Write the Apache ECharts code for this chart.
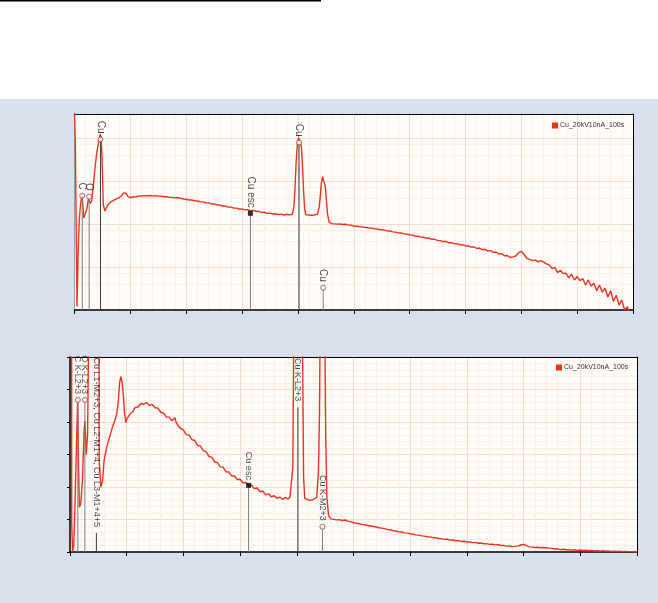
<!DOCTYPE html>
<html><head><meta charset="utf-8">
<script src="https://cdn.jsdelivr.net/npm/echarts@6/dist/echarts.min.js"></script>
<style>
html,body{margin:0;padding:0;background:#fff;}
#c{width:658px;height:603px;background:linear-gradient(to bottom,#ffffff 0,#ffffff 99px,#d8e0ee 99px,#d8e0ee 100%);}
</style></head>
<body><div id="c"></div>
<script>
// ---------- data (energy keV, counts) ----------
const seriesName = 'Cu_20kV10nA_100s';
const xTicks = [0, 2, 4, 6, 8, 10, 12, 14, 16, 18, 20];

const spectrumLow = [[0,400000],[0.03,80000],[0.06,900],[0.09,12],[0.13,200],[0.17,1240],[0.22,3000],[0.27,4720],[0.30,2800],[0.33,1380],[0.38,1500],[0.44,2200],[0.50,3800],[0.53,4030],[0.57,3000],[0.62,3600],[0.68,8500],[0.74,22000],[0.80,47000],[0.84,50000],[0.88,90000],[0.92,122000],[0.95,106000],[0.99,30000],[1.03,2800],[1.09,2000],[1.15,2200],[1.2,2800],[1.3,3250],[1.4,3550],[1.5,3850],[1.6,4100],[1.65,4250],[1.7,4600],[1.75,5200],[1.79,5400],[1.83,5250],[1.87,4950],[1.92,4300],[1.97,3980]];

const spectrumMid = [[2.0,4080],[2.1,4230],[2.2,4300],[2.3,4450],[2.4,4460],[2.5,4570],[2.6,4540],[2.7,4600],[2.8,4510],[2.9,4540],[3.0,4440],[3.1,4430],[3.2,4300],[3.3,4280],[3.4,4150],[3.5,4150],[3.6,4040],[3.65,4070],[3.7,4130],[3.75,3970],[3.8,3950],[3.9,3800],[4.0,3760],[4.1,3610],[4.2,3600],[4.3,3460],[4.4,3430],[4.5,3280],[4.6,3260],[4.7,3120],[4.8,3090],[4.9,2940],[5.0,2920],[5.1,2770],[5.2,2750],[5.3,2620],[5.4,2610],[5.5,2470],[5.6,2460],[5.7,2340],[5.8,2340],[5.9,2230],[6.0,2240],[6.1,2130],[6.2,2140],[6.3,2040],[6.4,2060],[6.5,1950],[6.6,1970],[6.7,1860],[6.8,1870],[6.9,1760],[7.0,1790],[7.1,1700],[7.2,1730],[7.3,1650],[7.4,1690],[7.5,1620],[7.6,1680],[7.7,1630],[7.76,1700]];

const spectrumCuK = [[7.80,1680],[7.86,2600],[7.90,7500],[7.94,30000],[7.98,72000],[8.02,102000],[8.05,107000],[8.08,98000],[8.12,66000],[8.16,26000],[8.20,6500],[8.24,2300],[8.28,1650],[8.35,1620],[8.45,1590],[8.55,1600],[8.62,1640],[8.70,1680],[8.76,2400],[8.80,4200],[8.84,8800],[8.88,12600],[8.91,13300],[8.94,11800],[8.98,7500],[9.02,3600],[9.06,1700],[9.12,1120],[9.20,1020]];

const spectrumHigh = [[9.3,1005],[9.4,990],[9.5,995],[9.6,970],[9.7,985],[9.8,950],[9.9,935],[10.0,900],[10.1,885],[10.2,870],[10.3,850],[10.4,835],[10.5,815],[10.6,800],[10.7,785],[10.8,770],[10.9,745],[11.0,735],[11.1,720],[11.2,690],[11.3,685],[11.4,655],[11.5,645],[11.6,620],[11.7,615],[11.8,590],[11.9,580],[12.0,560],[12.1,550],[12.2,525],[12.3,520],[12.4,495],[12.5,490],[12.6,470],[12.7,465],[12.8,440],[12.9,440],[13.0,415],[13.1,410],[13.2,390],[13.3,392],[13.4,365],[13.5,368],[13.6,345],[13.7,350],[13.8,325],[13.9,330],[14.0,308],[14.1,310],[14.2,290],[14.3,295],[14.4,270],[14.5,276],[14.6,252],[14.7,258],[14.8,236],[14.9,240],[15.0,218],[15.1,222],[15.2,200],[15.3,204],[15.4,182],[15.5,185],[15.6,166],[15.7,172],[15.8,180],[15.9,215],[16.0,232],[16.1,195],[16.2,158],[16.3,150],[16.4,140],[16.5,146],[16.6,132],[16.7,140],[16.8,130],[16.9,118],[17.0,112],[17.1,92],[17.2,98],[17.3,74],[17.4,84],[17.5,70],[17.6,72],[17.7,56],[17.8,68],[17.9,50],[18.0,60],[18.1,48],[18.2,54],[18.3,38],[18.4,50],[18.5,36],[18.6,42],[18.7,28],[18.8,38],[18.9,26],[19.0,32],[19.1,20],[19.2,28],[19.3,16],[19.4,22],[19.5,13],[19.6,17],[19.7,10],[19.8,12],[19.9,7],[20.0,9]];

// element line markers
const lineEnergies = [0.277, 0.525, 0.930, 6.30, 8.040, 8.905];
const topLineLabels = ['C', 'O', 'Cu', 'Cu esc', 'Cu', 'Cu'];
const topLineHeights = [4550, 4310, 92000, 1775, 78000, 33];
const bottomLineLabels = ['C K-L2+3', 'O K-L2+3', 'Cu L1-M2+3, Cu L2-M1+4, Cu L3-M1+4+5', 'Cu esc', 'Cu K-L2+3', 'Cu K-M2+3'];
const bottomLineHeights = [4680, 4680, 585, 2050, 4450, 778];

// ---------- chart ----------
const spectrum = spectrumLow.concat(spectrumMid, spectrumCuK, spectrumHigh);
const FONT = 'Liberation Sans, Arial, Helvetica, sans-serif';
const RED = '#e8341f';
const MAJOR = '#f1dbd4';
const MINOR = '#f9eeea';
const escIndex = 3;
const darkIdx = [2, 4];
const hiddenBottom = [2, 4];

function mainX(g) {
  return {
    gridIndex: g, type: 'value', min: xTicks[0], max: xTicks[xTicks.length - 1],
    interval: xTicks[1] - xTicks[0],
    axisLine: { show: true, onZero: false, lineStyle: { color: '#000', width: 1.5 } },
    axisTick: { show: true, length: 4, lineStyle: { color: '#000', width: 1 } },
    axisLabel: { show: false },
    splitLine: { show: true, lineStyle: { color: MAJOR, width: 1 } },
    minorTick: { show: false, splitNumber: 5 },
    minorSplitLine: { show: true, lineStyle: { color: MINOR, width: 1 } }
  };
}
function borderX(g) {
  return {
    gridIndex: g, type: 'value', position: 'top', min: 0, max: 1,
    axisLine: { show: true, onZero: false, lineStyle: { color: '#000', width: 1 } },
    axisTick: { show: false }, axisLabel: { show: false }, splitLine: { show: false }
  };
}
function borderY(g) {
  return {
    gridIndex: g, type: 'value', position: 'right', min: 0, max: 1,
    axisLine: { show: true, onZero: false, lineStyle: { color: '#000', width: 1 } },
    axisTick: { show: false }, axisLabel: { show: false }, splitLine: { show: false }
  };
}

function markerSeries(xi, yi, labels, heights, base, fontSize, hidden) {
  const out = [];
  lineEnergies.forEach((e, i) => {
    out.push({
      type: 'line', xAxisIndex: xi, yAxisIndex: yi, silent: true, symbol: 'none',
      data: [[e, base], [e, heights[i]]],
      lineStyle: { color: darkIdx.includes(i) ? '#3a3a3a' : '#7d7d7d', width: 1 },
      z: 4, animation: false
    });
  });
  const items = lineEnergies.map((e, i) => {
    const isEsc = i === escIndex;
    const hide = hidden.includes(i);
    return {
      value: [e, heights[i]], name: labels[i],
      symbol: isEsc ? 'rect' : 'circle',
      symbolSize: 5,
      itemStyle: hide ? { color: 'rgba(0,0,0,0)', borderColor: 'rgba(0,0,0,0)' } :
        (isEsc ? { color: '#000', borderColor: '#000', borderWidth: 0 } :
                 { color: '#fff', borderColor: '#8a4a40', borderWidth: 1 })
    };
  });
  out.push({
    type: 'scatter', xAxisIndex: xi, yAxisIndex: yi, silent: true, data: items, z: 6,
    animation: false,
    label: {
      show: true, position: 'top', distance: 3, rotate: -90, align: 'right', verticalAlign: 'middle',
      formatter: '{b}', fontSize: fontSize, color: '#1c1c1c', fontFamily: FONT
    }
  });
  return out;
}

const option = {
  animation: false,
  textStyle: { fontFamily: FONT },
  graphic: [
    { type: 'rect', shape: { x: 0, y: 0, width: 321, height: 1.5 }, style: { fill: '#000' } }
  ],
  legend: [
    { data: [seriesName], left: 552, top: 122, padding: 0, itemWidth: 6, itemHeight: 6, icon: 'rect',
      selectedMode: false, textStyle: { fontSize: 7, color: '#333', fontFamily: FONT, padding: [0, 0, 0, -3] } },
    { data: [seriesName], left: 556, top: 364, padding: 0, itemWidth: 6, itemHeight: 6, icon: 'rect',
      selectedMode: false, textStyle: { fontSize: 7, color: '#333', fontFamily: FONT, padding: [0, 0, 0, -3] } }
  ],
  grid: [
    { left: 74.5, top: 114, width: 558.5, height: 196, show: true, backgroundColor: '#fffbf7', borderWidth: 0 },
    { left: 70, top: 357, width: 567, height: 195, show: true, backgroundColor: '#fffbf7', borderWidth: 0 }
  ],
  xAxis: [mainX(0), borderX(0), mainX(1), borderX(1)],
  yAxis: [
    { gridIndex: 0, type: 'log', logBase: 10, min: 10, max: 360000,
      axisLine: { show: true, onZero: false, lineStyle: { color: '#98a2b4', width: 1 } },
      axisTick: { show: false }, axisLabel: { show: false },
      splitLine: { show: true, lineStyle: { color: MAJOR, width: 1 } },
      minorTick: { show: false, splitNumber: 3 },
      minorSplitLine: { show: true, lineStyle: { color: MINOR, width: 1 } } },
    borderY(0),
    { gridIndex: 1, type: 'value', min: 0, max: 6000, interval: 1000,
      axisLine: { show: true, onZero: false, lineStyle: { color: '#000', width: 1.5 } },
      axisTick: { show: true, length: 3, lineStyle: { color: '#000' } }, axisLabel: { show: false },
      splitLine: { show: true, lineStyle: { color: MAJOR, width: 1 } },
      minorTick: { show: false, splitNumber: 5 },
      minorSplitLine: { show: true, lineStyle: { color: MINOR, width: 1 } } },
    borderY(1)
  ],
  series: [
    { type: 'line', name: seriesName, xAxisIndex: 0, yAxisIndex: 0, data: spectrum, symbol: 'none',
      lineStyle: { color: RED, width: 1.4 }, itemStyle: { color: RED }, z: 3 },
    { type: 'line', name: seriesName, xAxisIndex: 2, yAxisIndex: 2, data: spectrum, symbol: 'none',
      lineStyle: { color: RED, width: 1.4 }, itemStyle: { color: RED }, z: 3 }
  ].concat(
    markerSeries(0, 0, topLineLabels, topLineHeights, 10, 10, []),
    markerSeries(2, 2, bottomLineLabels, bottomLineHeights, 0, 9, hiddenBottom)
  )
};

const chart = echarts.init(document.getElementById('c'));
chart.setOption(option);
</script>
</body></html>
